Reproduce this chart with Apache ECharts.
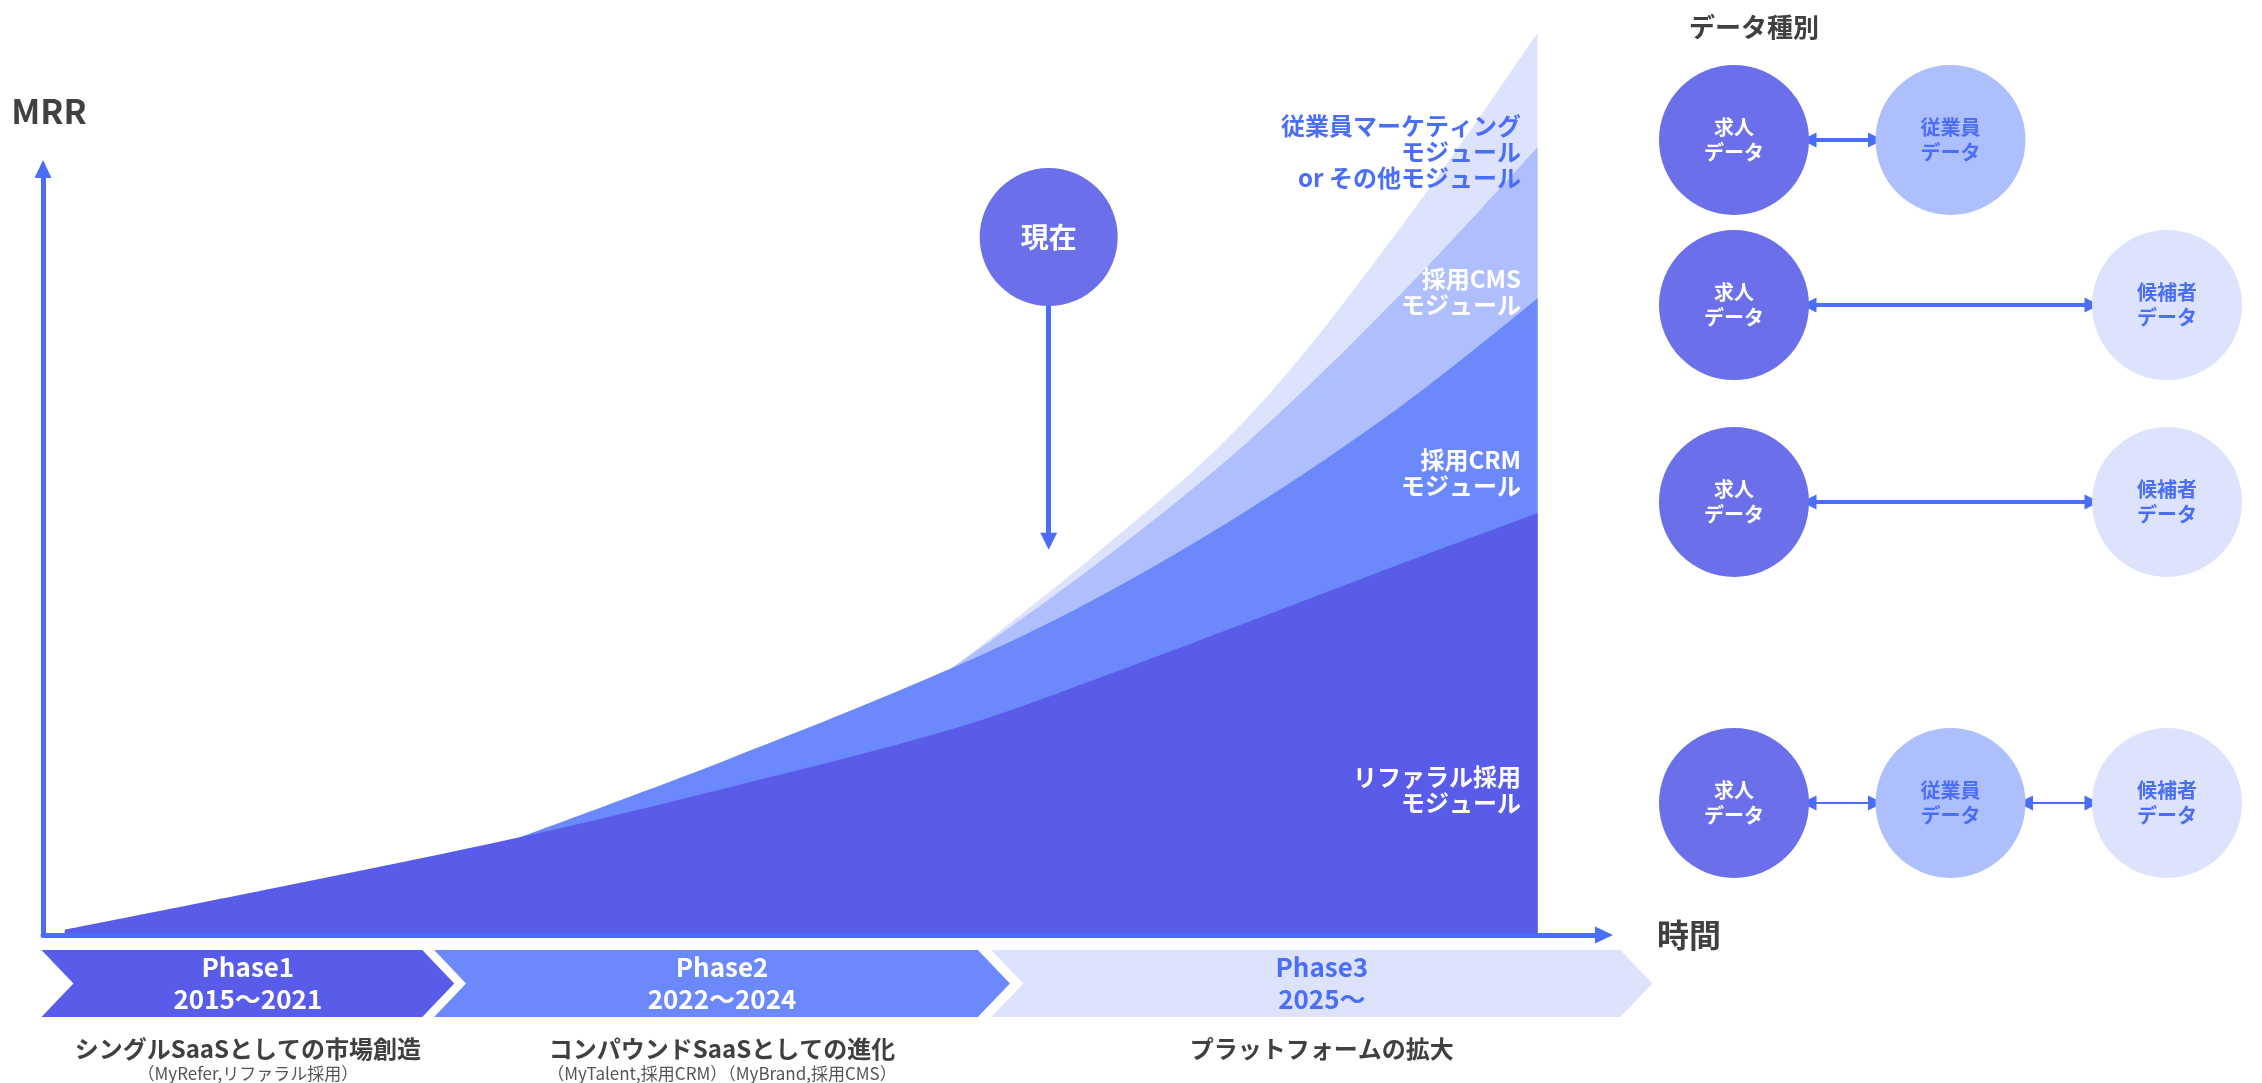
<!DOCTYPE html>
<html lang="ja">
<head>
<meta charset="utf-8">
<title>MRR成長とフェーズ</title>
<script src="https://cdn.jsdelivr.net/npm/echarts@6/dist/echarts.min.js"></script>
<style>
  html, body { margin: 0; padding: 0; background: #fff; }
  #chart { width: 2262px; height: 1083px; }
</style>
</head>
<body>
<div id="chart"></div>
<script>
// 時間軸(0〜100)上の位置とMRR(累積)
const timeReferral = [1.4, 16.6, 30.7, 44.0, 58.6, 67.7, 77.6, 87.6, 96.3];
const mrrReferral = [0.7, 6.9, 12.9, 19.4, 27.2, 33.7, 41.3, 49.1, 55.7];

const timeCRM = [30.7, 44.0, 58.6, 67.7, 77.6, 87.6, 96.3];
const mrrWithCRM = [12.9, 23.1, 35.3, 44.3, 56.1, 70.0, 84.1];

const timeUpper = [58.6, 67.7, 77.6, 87.6, 96.3];
const mrrWithCMS = [35.3, 48.7, 65.1, 84.9, 104.1];
const mrrWithOther = [35.3, 50.1, 68.3, 93.8, 119.2];

// 現在マーカー
const nowTime = 64.8;

// フェーズ
const phaseNames = ['Phase1', 'Phase2', 'Phase3'];
const phasePeriods = ['2015～2021', '2022～2024', '2025～'];
const phaseThemes = ['シングルSaaSとしての市場創造', 'コンパウンドSaaSとしての進化', 'プラットフォームの拡大'];
const phaseProducts = ['（MyRefer,リファラル採用）', '（MyTalent,採用CRM）（MyBrand,採用CMS）', ''];
const phaseStart = [-0.1, 25.2, 61.1];
const phaseEnd = [26.5, 62.3, 103.7];

// データ種別
const dataTypes = ['求人\nデータ', '従業員\nデータ', '候補者\nデータ'];
const dataRows = [[0, 1], [0, 2], [0, 2], [0, 1, 2]];
const rowLevels = [0, 0.747, 1.638, 3];

const BLUE = '#4b6ef9';
const DARK = '#404040';
const FONT = "'Noto Sans CJK JP', 'Noto Sans', sans-serif";

const layerColors = { referral: '#585ce8', crm: '#6c89fc', cms: '#afbffd', other: '#dee3fd' };
const phaseColors = ['#585ce8', '#6c89fc', '#dee3fd'];
const phaseTextColors = ['#ffffff', '#ffffff', BLUE];
const typeColors = ['#6b70ea', '#aebffd', '#dee3fd'];
const typeTextColors = ['#ffffff', BLUE, BLUE];

function zip(xs, ys) {
  return xs.map((x, i) => [x, ys[i]]);
}

function areaSeries(name, xs, ys, color) {
  return {
    name: name,
    type: 'line',
    data: zip(xs, ys),
    smooth: 0.35,
    showSymbol: false,
    clip: false,
    silent: true,
    lineStyle: { width: 0 },
    areaStyle: { color: color, opacity: 1 }
  };
}

// グラフ用ノードとリンク
const nodes = [];
const links = [];
dataRows.forEach((row, r) => {
  row.forEach((col, k) => {
    nodes.push({
      value: [col, rowLevels[r]],
      itemStyle: { color: typeColors[col] },
      label: { formatter: dataTypes[col], color: typeTextColors[col] }
    });
    if (k > 0) {
      links.push({
        source: nodes.length - 2,
        target: nodes.length - 1,
        lineStyle: { width: row.length > 2 ? 2 : 4 }
      });
    }
  });
});

const referral = areaSeries('リファラル採用', timeReferral, mrrReferral, layerColors.referral);
referral.markPoint = {
  silent: true,
  symbol: 'circle',
  symbolSize: 138,
  itemStyle: { color: '#6b70ea' },
  label: { show: true, formatter: '現在', color: '#fff', fontSize: 28, fontWeight: 'bold', fontFamily: FONT },
  data: [{ coord: [nowTime, 92.2] }]
};
referral.markLine = {
  silent: true,
  symbol: ['none', 'triangle'],
  symbolSize: [17, 17],
  lineStyle: { color: BLUE, width: 5, type: 'solid' },
  label: { show: false },
  data: [[{ coord: [nowTime, 83.1] }, { coord: [nowTime, 52.0] }]]
};

// エリア上のラベル
function areaLabel(text, y, color) {
  return {
    type: 'text', x: 1521, y: y, z: 20,
    style: { text: text, fill: color, fontSize: 24, fontWeight: 'bold', fontFamily: FONT, lineHeight: 26, align: 'right', verticalAlign: 'middle' }
  };
}

const chart = echarts.init(document.getElementById('chart'));
chart.setOption({
  animation: false,
  backgroundColor: '#ffffff',
  textStyle: { fontFamily: FONT },
  title: {
    text: 'データ種別',
    left: 1684,
    top: 9,
    textStyle: { color: DARK, fontSize: 26, fontWeight: 'bold', fontFamily: FONT }
  },
  grid: [
    { left: 43, right: 667, top: 178, bottom: 148 },
    { left: 1734, right: 95, top: 140, bottom: 280 }
  ],
  xAxis: [
    {
      type: 'value', min: 0, max: 100, z: 5,
      name: '時間', nameLocation: 'end', nameGap: 62,
      nameTextStyle: { color: DARK, fontSize: 32, fontWeight: 'bold', fontFamily: FONT, verticalAlign: 'middle' },
      axisLine: {
        show: true, onZero: false,
        symbol: ['none', 'triangle'], symbolSize: [17, 18], symbolOffset: [0, 9],
        lineStyle: { color: BLUE, width: 5 }
      },
      axisTick: { show: false }, axisLabel: { show: false }, splitLine: { show: false }
    },
    { gridIndex: 1, type: 'value', min: 0, max: 2, show: false }
  ],
  yAxis: [
    {
      type: 'value', min: 0, max: 100, z: 5,
      name: 'MRR', nameLocation: 'end', nameGap: 50,
      nameTextStyle: { color: DARK, fontSize: 34, fontWeight: 'bold', fontFamily: FONT, padding: [0, 0, 0, 12] },
      axisLine: {
        show: true, onZero: false,
        symbol: ['none', 'triangle'], symbolSize: [17, 18], symbolOffset: [0, 9],
        lineStyle: { color: BLUE, width: 5 }
      },
      axisTick: { show: false }, axisLabel: { show: false }, splitLine: { show: false }
    },
    { gridIndex: 1, type: 'value', min: 0, max: 3, inverse: true, show: false }
  ],
  series: [
    areaSeries('従業員マーケティング', timeUpper, mrrWithOther, layerColors.other),
    areaSeries('採用CMS', timeUpper, mrrWithCMS, layerColors.cms),
    areaSeries('採用CRM', timeCRM, mrrWithCRM, layerColors.crm),
    referral,
    {
      type: 'custom',
      clip: false,
      silent: true,
      data: phaseNames.map((n, i) => [phaseStart[i], phaseEnd[i]]),
      encode: { x: [0, 1] },
      renderItem: function (params, api) {
        const i = params.dataIndex;
        const x0 = api.coord([api.value(0), 0])[0];
        const x1 = api.coord([api.value(1), 0])[0];
        const top = api.coord([0, 0])[1] + 15;
        const h = 67, d = 32;
        const cx = (x0 + x1) / 2;
        const children = [
          {
            type: 'polygon',
            shape: { points: [[x0, top], [x1 - d, top], [x1, top + h / 2], [x1 - d, top + h], [x0, top + h], [x0 + d, top + h / 2]] },
            style: { fill: phaseColors[i] }
          },
          {
            type: 'text', x: cx, y: top + 17,
            style: { text: phaseNames[i], fill: phaseTextColors[i], fontSize: 26, fontWeight: 'bold', fontFamily: FONT, align: 'center', verticalAlign: 'middle' }
          },
          {
            type: 'text', x: cx, y: top + 49,
            style: { text: phasePeriods[i], fill: phaseTextColors[i], fontSize: 26, fontWeight: 'bold', fontFamily: FONT, align: 'center', verticalAlign: 'middle' }
          },
          {
            type: 'text', x: cx, y: top + 99,
            style: { text: phaseThemes[i], fill: DARK, fontSize: 24, fontWeight: 'bold', fontFamily: FONT, align: 'center', verticalAlign: 'middle' }
          }
        ];
        if (phaseProducts[i]) {
          children.push({
            type: 'text', x: cx, y: top + 124,
            style: { text: phaseProducts[i], fill: '#555555', fontSize: 17, fontFamily: FONT, align: 'center', verticalAlign: 'middle' }
          });
        }
        return { type: 'group', children: children };
      }
    },
    {
      type: 'graph',
      coordinateSystem: 'cartesian2d',
      xAxisIndex: 1,
      yAxisIndex: 1,
      layout: 'none',
      silent: true,
      symbol: 'circle',
      symbolSize: 150,
      edgeSymbol: ['triangle', 'triangle'],
      edgeSymbolSize: 15,
      label: { show: true, position: 'inside', fontSize: 20, fontWeight: 'bold', lineHeight: 25, fontFamily: FONT },
      lineStyle: { color: BLUE, width: 4, opacity: 1, curveness: 0 },
      data: nodes,
      links: links
    }
  ],
  graphic: [
    areaLabel('従業員マーケティング\nモジュール\nor その他モジュール', 152, BLUE),
    areaLabel('採用CMS\nモジュール', 292, '#ffffff'),
    areaLabel('採用CRM\nモジュール', 473, '#ffffff'),
    areaLabel('リファラル採用\nモジュール', 790, '#ffffff')
  ]
});
</script>
</body>
</html>
